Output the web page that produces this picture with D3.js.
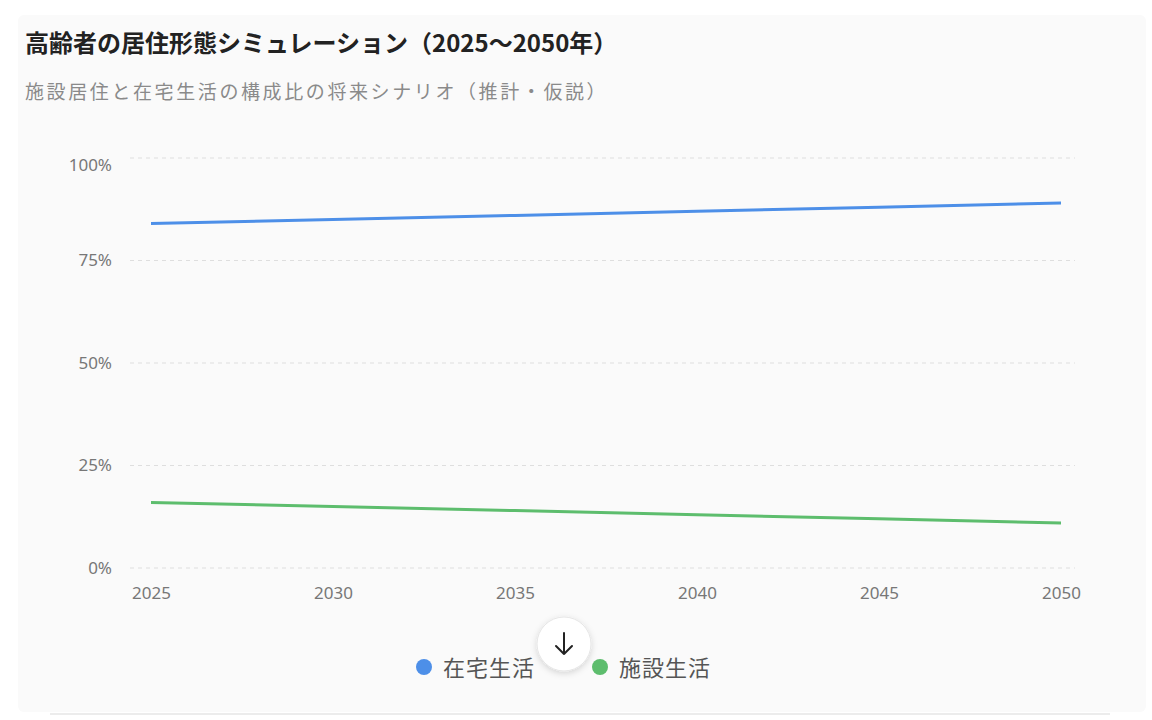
<!DOCTYPE html>
<html>
<head>
<meta charset="utf-8">
<script src="https://cdn.jsdelivr.net/npm/d3@7.9.0/dist/d3.min.js"></script>
<style>
  html, body { margin: 0; padding: 0; background: #fff; }
  body { width: 1152px; height: 720px; overflow: hidden; font-family: "Noto Sans CJK JP", "Noto Sans", sans-serif; }
  svg { display: block; }
</style>
</head>
<body>
<div id="chart"></div>
<script>
// -------- data --------
const years = [2025, 2030, 2035, 2040, 2045, 2050];
const homeShare = [84, 85, 86, 87, 88, 89];        // 在宅生活 (%)
const facilityShare = [16, 15, 14, 13, 12, 11];    // 施設生活 (%)
const yTicks = [0, 25, 50, 75, 100];
const seriesNames = ['在宅生活', '施設生活'];
const seriesColors = ['#4d8fe8', '#5dbd6d'];

const titleText = '高齢者の居住形態シミュレーション（2025～2050年）';
const subtitleText = '施設居住と在宅生活の構成比の将来シナリオ（推計・仮説）';

// -------- layout --------
const width = 1152;
const height = 720;
const plot = { left: 130, right: 1075, top: 158, bottom: 568 };

const svg = d3.select('#chart')
  .append('svg')
  .attr('width', width)
  .attr('height', height);

// card background
svg.append('rect')
  .attr('x', 18).attr('y', 15)
  .attr('width', 1128).attr('height', 697)
  .attr('rx', 6)
  .attr('fill', '#fafafa');

svg.append('line')
  .attr('x1', 50).attr('x2', 1110)
  .attr('y1', 714).attr('y2', 714)
  .attr('stroke', '#ececec').attr('stroke-width', 2);

svg.append('text')
  .attr('x', 25).attr('y', 52)
  .attr('font-size', 24).attr('font-weight', 700)
  .attr('fill', '#222')
  .text(titleText);

svg.append('text')
  .attr('x', 25).attr('y', 99)
  .attr('font-size', 19)
  .attr('letter-spacing', 2.6)
  .attr('fill', '#8a8a8a')
  .text(subtitleText);

// -------- scales --------
const x = d3.scaleLinear()
  .domain(d3.extent(years))
  .range([151, 1061]);

const y = d3.scaleLinear()
  .domain([0, 100])
  .range([plot.bottom, plot.top]);

// gridlines
svg.append('g')
  .attr('class', 'grid')
  .selectAll('line')
  .data(yTicks)
  .join('line')
  .attr('x1', plot.left).attr('x2', plot.right)
  .attr('y1', d => y(d)).attr('y2', d => y(d))
  .attr('stroke', '#dedede')
  .attr('stroke-width', 1)
  .attr('stroke-dasharray', '4,4');

// y axis
const yAxis = svg.append('g')
  .attr('transform', `translate(${plot.left - 15},0)`)
  .call(d3.axisLeft(y).tickValues(yTicks).tickFormat(d => d + '%').tickSize(0));
yAxis.select('.domain').remove();
yAxis.selectAll('text')
  .attr('font-family', '"Noto Sans", "Noto Sans CJK JP", sans-serif')
  .attr('font-size', 17)
  .attr('fill', '#777')
  .attr('dy', d => d === 100 ? '0.75em' : '0.32em');

// x axis
const xAxis = svg.append('g')
  .attr('transform', `translate(0,${plot.bottom + 16})`)
  .call(d3.axisBottom(x).tickValues(years).tickFormat(d3.format('d')).tickSize(0));
xAxis.select('.domain').remove();
xAxis.selectAll('text')
  .attr('font-family', '"Noto Sans", "Noto Sans CJK JP", sans-serif')
  .attr('font-size', 17)
  .attr('fill', '#777');

// lines
const line = d3.line()
  .x((d, i) => x(years[i]))
  .y(d => y(d));

[homeShare, facilityShare].forEach((vals, i) => {
  svg.append('path')
    .datum(vals)
    .attr('fill', 'none')
    .attr('stroke', seriesColors[i])
    .attr('stroke-width', 3)
    .attr('stroke-linecap', 'butt')
    .attr('d', line);
});

// legend
const legendX = [424, 600];
const legend = svg.append('g').attr('class', 'legend');
seriesNames.forEach((name, i) => {
  legend.append('circle')
    .attr('cx', legendX[i]).attr('cy', 667)
    .attr('r', 8)
    .attr('fill', seriesColors[i]);
  legend.append('text')
    .attr('x', legendX[i] + 19).attr('y', 676)
    .attr('font-size', 22)
    .attr('letter-spacing', 1)
    .attr('fill', '#555')
    .text(name);
});

// floating scroll button
const defs = svg.append('defs');
const f = defs.append('filter').attr('id', 'shadow')
  .attr('x', '-50%').attr('y', '-50%').attr('width', '200%').attr('height', '200%');
f.append('feDropShadow')
  .attr('dx', 0).attr('dy', 2).attr('stdDeviation', 3)
  .attr('flood-color', '#000').attr('flood-opacity', 0.15);

const btn = svg.append('g').attr('transform', 'translate(564,644)');
btn.append('circle')
  .attr('r', 27)
  .attr('fill', '#fff')
  .attr('stroke', '#e6e6e6')
  .attr('filter', 'url(#shadow)');
btn.append('path')
  .attr('d', 'M0,-11 V10 M-8,2 L0,10 L8,2')
  .attr('fill', 'none')
  .attr('stroke', '#222')
  .attr('stroke-width', 2)
  .attr('stroke-linecap', 'round')
  .attr('stroke-linejoin', 'round');
</script>
</body>
</html>
